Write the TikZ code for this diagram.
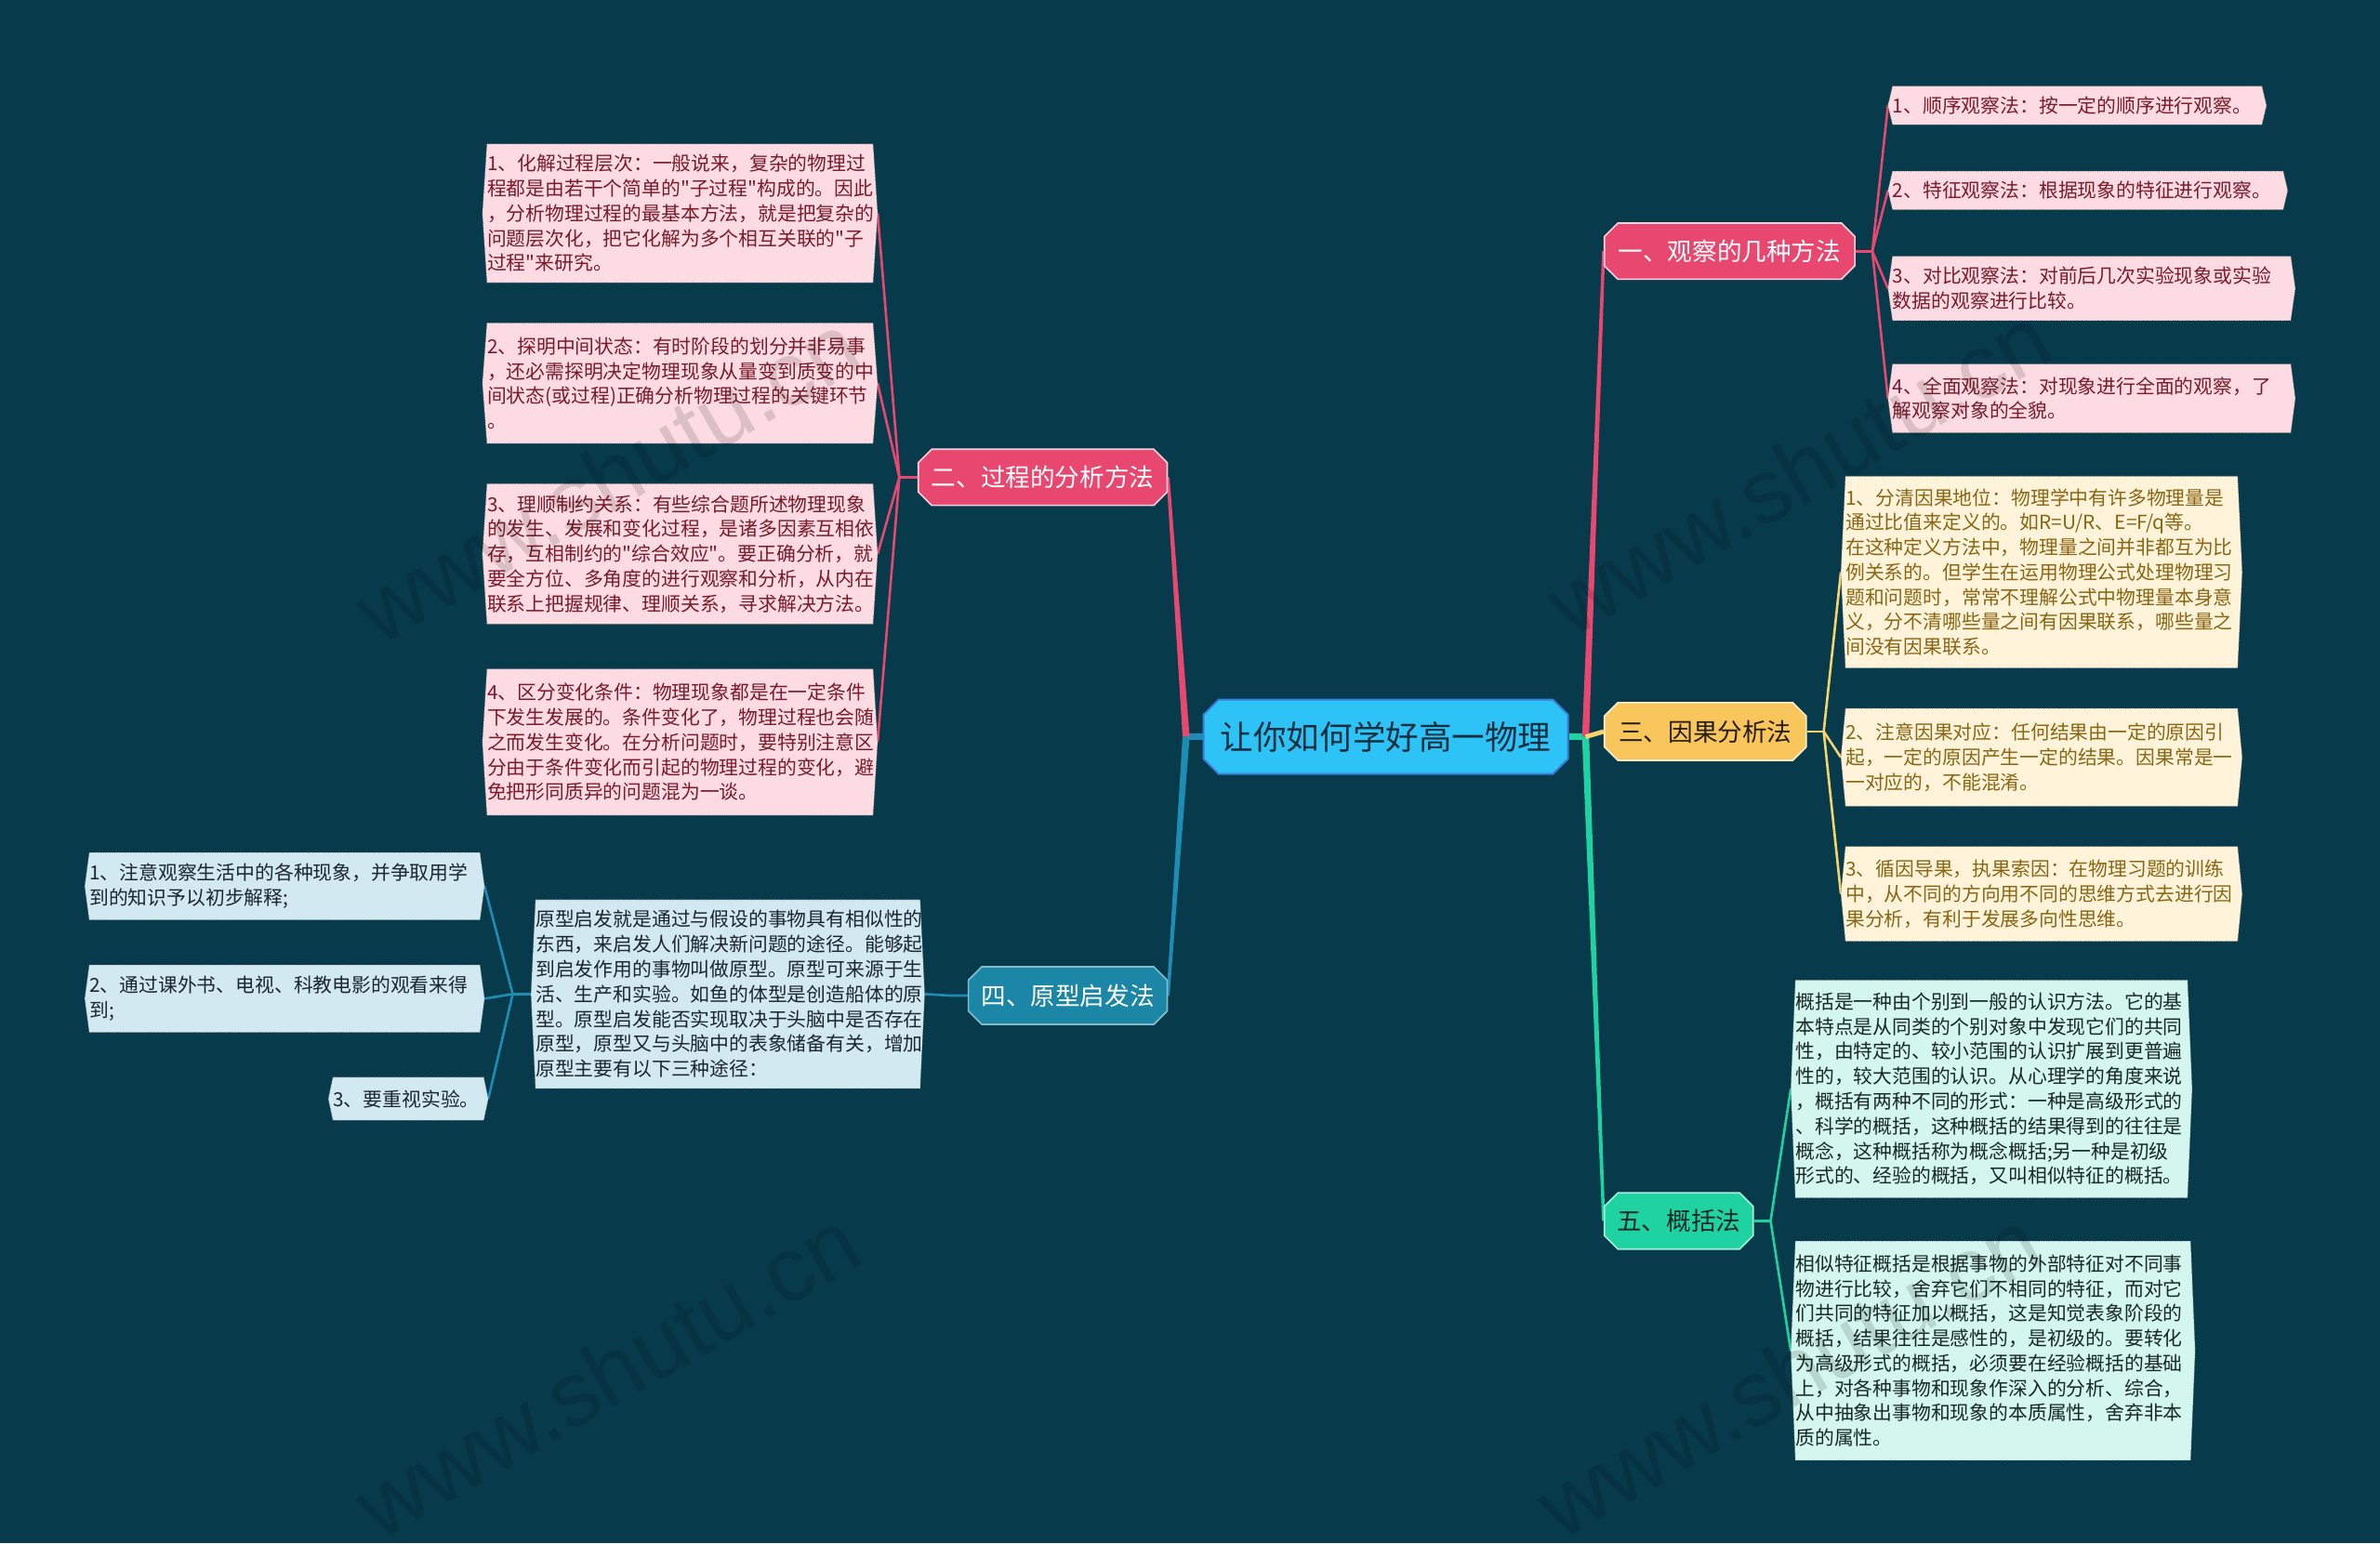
\documentclass[tikz,border=0pt]{standalone}
\usepackage{fontspec}
\newfontfamily\cjk{Noto Sans CJK SC}
\newfontfamily\wmfont{Liberation Sans}
\usetikzlibrary{shapes.misc,calc}
\pgfdeclarelayer{bgl}\pgfdeclarelayer{lines}\pgfdeclarelayer{shapes}\pgfdeclarelayer{wm}
\pgfsetlayers{bgl,lines,shapes,main,wm}
\definecolor{bgc}{HTML}{073A4B}
\definecolor{pinkB}{HTML}{E8486F}
\definecolor{pinkLeaf}{HTML}{FCDCE2}
\definecolor{pinkText}{HTML}{7A1A2B}
\definecolor{yelB}{HTML}{F9C65B}
\definecolor{yelLine}{HTML}{F6D36B}
\definecolor{yelLeaf}{HTML}{FFF4DA}
\definecolor{yelText}{HTML}{8A6513}
\definecolor{bluB}{HTML}{1C86A6}
\definecolor{bluLine}{HTML}{1E8DB3}
\definecolor{bluLeaf}{HTML}{D3E9F1}
\definecolor{bluText}{HTML}{1B2630}
\definecolor{grnB}{HTML}{1ED3A1}
\definecolor{grnLeaf}{HTML}{D3F6EE}
\definecolor{grnText}{HTML}{182828}
\definecolor{cenFill}{HTML}{2EC3F6}
\definecolor{cenDraw}{HTML}{3A7ED8}
\definecolor{cenText}{HTML}{173040}
\newcommand{\leafpath}[3]{%
  \path[fill=#2, draw=black!55, line width=0.5pt, densely dotted]
    (#1.north west) -- (#1.north east) -- ([xshift=#3]#1.east) --
    (#1.south east) -- (#1.south west) -- ([xshift=-#3]#1.west) -- cycle;}
\newcommand{\taper}[5]{%
  \fill[#1] ($(#2)+(-#4,0)$) -- ($(#2)+(#4,0)$) -- ($(#3)+(#5,0)$) -- ($(#3)+(-#5,0)$) -- cycle;}
\tikzset{
  leaf/.style={rectangle, inner sep=0pt, align=left,
    font=\cjk\fontsize{12.75}{16.4}\selectfont},
  branch/.style={chamfered rectangle, chamfered rectangle xsep=6pt, inner sep=0pt,
    line width=1pt, font=\cjk\fontsize{16.3}{18}\selectfont},
  pl/.style={line width=1.6pt, pinkB},
  yl/.style={line width=1.6pt, yelLine},
  bl/.style={line width=1.6pt, bluLine},
  gl/.style={line width=1.6pt, grnB},
  wmark/.style={rotate=30, font=\wmfont\fontsize{60}{60}\selectfont, text=black, opacity=0.13}
}
\begin{document}
\begin{tikzpicture}[x=1pt,y=-1pt]
\useasboundingbox (0,0) rectangle (1568,1017);
\begin{pgfonlayer}{bgl}
\fill[bgc] (0,0) rectangle (1568,1017);
\end{pgfonlayer}

% center
\node[chamfered rectangle, chamfered rectangle xsep=7pt, inner sep=0pt, fill=cenFill, draw=cenDraw, line width=1.2pt,
  minimum width=240, minimum height=49, text=cenText, font=\cjk\fontsize{21.8}{24}\selectfont]
  (c) at (913,485.5) {让你如何学好高一物理};

% branches
\node[branch, fill=pinkB, draw=white!75!pinkB, text=white, minimum width=165, minimum height=37] (b1) at (1139.5,165.5) {一、观察的几种方法};
\node[branch, fill=pinkB, draw=white!75!pinkB, text=white, minimum width=164, minimum height=37] (b2) at (687,314.5) {二、过程的分析方法};
\node[branch, fill=yelB, draw=white!70!yelB, text=black!85!yelB, minimum width=133, minimum height=38] (b3) at (1123.5,482) {三、因果分析法};
\node[branch, fill=bluB, draw=white!45!bluB, text=white, minimum width=131, minimum height=38] (b4) at (703.5,656) {四、原型启发法};
\node[branch, fill=grnB, draw=white!60!grnB, text=grnText, minimum width=98, minimum height=37] (b5) at (1106,804.5) {五、概括法};

% leaves of 一
\node[leaf, text=pinkText, text width=243, minimum height=25] (l1) at (1368.5,69.5) {1、顺序观察法：按一定的顺序进行观察。};
\node[leaf, text=pinkText, text width=257, minimum height=25] (l2) at (1375.5,125.5) {2、特征观察法：根据现象的特征进行观察。};
\node[leaf, text=pinkText, text width=262, minimum height=42] (l3) at (1378,190) {3、对比观察法：对前后几次实验现象或实验\\数据的观察进行比较。};
\node[leaf, text=pinkText, text width=262, minimum height=45] (l4) at (1378,262.5) {4、全面观察法：对现象进行全面的观察，了\\解观察对象的全貌。};

% leaves of 二
\node[leaf, text=pinkText, text width=254, minimum height=91] (a1) at (448,140.5) {1、化解过程层次：一般说来，复杂的物理过\\程都是由若干个简单的"子过程"构成的。因此\\，分析物理过程的最基本方法，就是把复杂的\\问题层次化，把它化解为多个相互关联的"子\\过程"来研究。};
\node[leaf, text=pinkText, text width=254, minimum height=79] (a2) at (448,252.5) {2、探明中间状态：有时阶段的划分并非易事\\，还必需探明决定物理现象从量变到质变的中\\间状态(或过程)正确分析物理过程的关键环节\\。};
\node[leaf, text=pinkText, text width=254, minimum height=92] (a3) at (448,365) {3、理顺制约关系：有些综合题所述物理现象\\的发生、发展和变化过程，是诸多因素互相依\\存，互相制约的"综合效应"。要正确分析，就\\要全方位、多角度的进行观察和分析，从内在\\联系上把握规律、理顺关系，寻求解决方法。};
\node[leaf, text=pinkText, text width=254, minimum height=96] (a4) at (448,489) {4、区分变化条件：物理现象都是在一定条件\\下发生发展的。条件变化了，物理过程也会随\\之而发生变化。在分析问题时，要特别注意区\\分由于条件变化而引起的物理过程的变化，避\\免把形同质异的问题混为一谈。};

% leaves of 三
\node[leaf, text=yelText, text width=258, minimum height=126] (y1) at (1345,377) {1、分清因果地位：物理学中有许多物理量是\\通过比值来定义的。如R=U/R、E=F/q等。\\在这种定义方法中，物理量之间并非都互为比\\例关系的。但学生在运用物理公式处理物理习\\题和问题时，常常不理解公式中物理量本身意\\义，分不清哪些量之间有因果联系，哪些量之\\间没有因果联系。};
\node[leaf, text=yelText, text width=258, minimum height=64] (y2) at (1345,499) {2、注意因果对应：任何结果由一定的原因引\\起，一定的原因产生一定的结果。因果常是一\\一对应的，不能混淆。};
\node[leaf, text=yelText, text width=258, minimum height=62] (y3) at (1345,589) {3、循因导果，执果索因：在物理习题的训练\\中，从不同的方向用不同的思维方式去进行因\\果分析，有利于发展多向性思维。};

% leaves of 四
\node[leaf, text=bluText, text width=253, minimum height=124] (m4) at (479.5,655) {原型启发就是通过与假设的事物具有相似性的\\东西，来启发人们解决新问题的途径。能够起\\到启发作用的事物叫做原型。原型可来源于生\\活、生产和实验。如鱼的体型是创造船体的原\\型。原型启发能否实现取决于头脑中是否存在\\原型，原型又与头脑中的表象储备有关，增加\\原型主要有以下三种途径：};
\node[leaf, text=bluText, text width=257, minimum height=44] (k1) at (187.5,584) {1、注意观察生活中的各种现象，并争取用学\\到的知识予以初步解释;};
\node[leaf, text=bluText, text width=257, minimum height=44] (k2) at (187.5,658) {2、通过课外书、电视、科教电影的观看来得\\到;};
\node[leaf, text=bluText, text width=99, minimum height=28] (k3) at (269,724) {3、要重视实验。};

% leaves of 五
\node[leaf, text=grnText, text width=258, minimum height=143] (g1) at (1312,717.5) {概括是一种由个别到一般的认识方法。它的基\\本特点是从同类的个别对象中发现它们的共同\\性，由特定的、较小范围的认识扩展到更普遍\\性的，较大范围的认识。从心理学的角度来说\\，概括有两种不同的形式：一种是高级形式的\\、科学的概括，这种概括的结果得到的往往是\\概念，这种概括称为概念概括;另一种是初级\\形式的、经验的概括，又叫相似特征的概括。};
\node[leaf, text=grnText, text width=260, minimum height=144] (g2) at (1313,890) {相似特征概括是根据事物的外部特征对不同事\\物进行比较，舍弃它们不相同的特征，而对它\\们共同的特征加以概括，这是知觉表象阶段的\\概括，结果往往是感性的，是初级的。要转化\\为高级形式的概括，必须要在经验概括的基础\\上，对各种事物和现象作深入的分析、综合，\\从中抽象出事物和现象的本质属性，舍弃非本\\质的属性。};

% leaf shapes
\begin{pgfonlayer}{shapes}
\foreach \n in {l1,l2,l3,l4,a1,a2,a3,a4} {\leafpath{\n}{pinkLeaf}{3pt}}
\foreach \n in {y1,y2,y3} {\leafpath{\n}{yelLeaf}{3pt}}
\foreach \n in {m4,k1,k2,k3} {\leafpath{\n}{bluLeaf}{3pt}}
\foreach \n in {g1,g2} {\leafpath{\n}{grnLeaf}{3pt}}
\end{pgfonlayer}

% hubs and junctions
\coordinate (hubL) at ($(c.west)+(-11,0)$);
\coordinate (hubR) at ($(c.east)+(11,0)$);
\coordinate (j1) at ($(b1.east)+(11,0)$);
\coordinate (j2) at ($(b2.west)+(-12,0)$);
\coordinate (j3) at ($(b3.east)+(11,0)$);
\coordinate (j4) at ($(b4.west)+(-11,0)$);
\coordinate (j4b) at ($(m4.west)+(-15,0)$);
\coordinate (j5) at ($(b5.east)+(11,0)$);

\begin{pgfonlayer}{lines}
\draw[line width=4pt, bluLine] (c.west) -- (hubL);
\draw[line width=4pt, grnB] (c.east) -- (hubR);
\taper{pinkB}{hubL}{b2.east}{2.3}{1}
\taper{bluLine}{hubL}{b4.east}{2.3}{1}
\taper{pinkB}{hubR}{b1.west}{2.3}{1}
\taper{grnB}{hubR}{b5.west}{2.3}{1}
\draw[line width=3pt, yelLine] (hubR) -- (b3.west);
% leaf connectors
\draw[pl] (b1.east) -- (j1);
\foreach \t in {l1,l2,l3,l4} {\draw[pl] (j1) -- ([xshift=-3pt]\t.west);}
\draw[pl] (b2.west) -- (j2);
\foreach \t in {a1,a2,a3,a4} {\draw[pl] (j2) -- ([xshift=3pt]\t.east);}
\draw[yl] (b3.east) -- (j3);
\foreach \t in {y1,y2,y3} {\draw[yl] (j3) -- ([xshift=-3pt]\t.west);}
\draw[bl] (b4.west) -- (j4) -- ([xshift=3pt]m4.east);
\draw[bl] ([xshift=-3pt]m4.west) -- (j4b);
\foreach \t in {k1,k2,k3} {\draw[bl] (j4b) -- ([xshift=3pt]\t.east);}
\draw[gl] (b5.east) -- (j5);
\foreach \t in {g1,g2} {\draw[gl] (j5) -- ([xshift=-3pt]\t.west);}
\end{pgfonlayer}

% watermarks
\begin{pgfonlayer}{wm}
\node[wmark] (w1) at (400,315) {www.shutu.cn};
\node[wmark] (w2) at (1185,310) {www.shutu.cn};
\node[wmark] (w3) at (400,905) {www.shutu.cn};
\node[wmark] (w4) at (1178,905) {www.shutu.cn};
\end{pgfonlayer}
\end{tikzpicture}
\end{document}
